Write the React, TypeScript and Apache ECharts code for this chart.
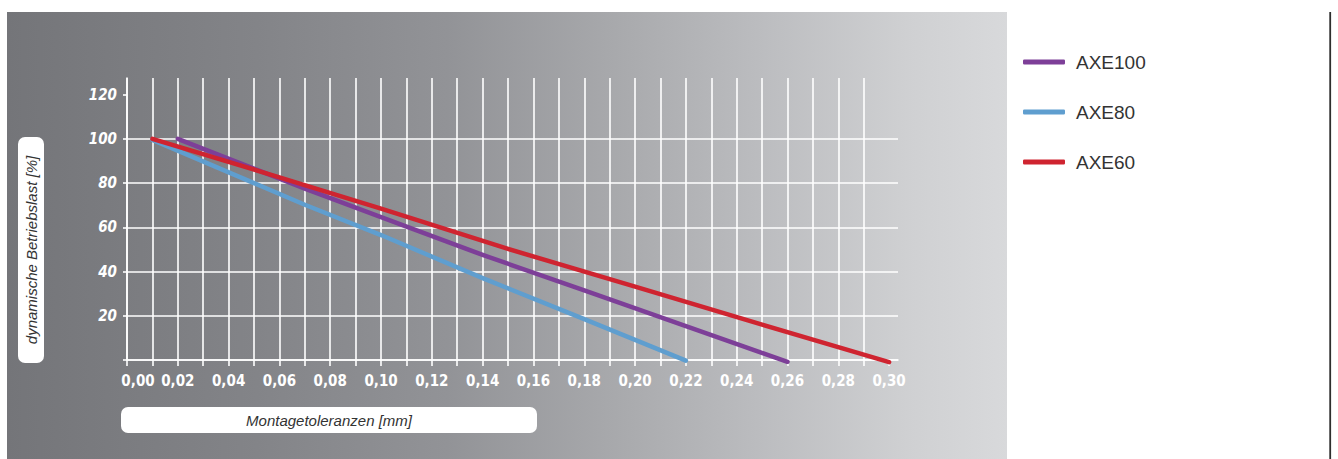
import React, { useEffect, useRef } from "react";
import * as echarts from "echarts";

const xTickValues = [0, 0.01, 0.02, 0.03, 0.04, 0.05, 0.06, 0.07, 0.08, 0.09, 0.1, 0.11, 0.12, 0.13, 0.14, 0.15, 0.16, 0.17, 0.18, 0.19, 0.2, 0.21, 0.22, 0.23, 0.24, 0.25, 0.26, 0.27, 0.28, 0.29, 0.3];
const xLabelValues = [0, 0.02, 0.04, 0.06, 0.08, 0.1, 0.12, 0.14, 0.16, 0.18, 0.2, 0.22, 0.24, 0.26, 0.28, 0.3];
const yTickValues = [0, 20, 40, 60, 80, 100, 120];
const yLabelValues = [20, 40, 60, 80, 100, 120];

const seriesNames = ["AXE100", "AXE80", "AXE60"];
const seriesColors = ["#7d3f98", "#5f9ecf", "#cf2430"];

const axe100X = [0.02, 0.07, 0.1, 0.14, 0.18, 0.22, 0.26];
const axe100Y = [100, 77.5, 64.6, 47.5, 31.5, 15.3, -0.8];
const axe80X = [0.01, 0.05, 0.07, 0.1, 0.14, 0.18, 0.22];
const axe80Y = [99.5, 80, 70.2, 56.5, 37.0, 18.5, -0.3];
const axe60X = [0.01, 0.06, 0.1, 0.15, 0.2, 0.25, 0.3];
const axe60Y = [100, 82.6, 68.4, 50.2, 33.2, 16.0, -1];

const xTitle = "Montagetoleranzen [mm]";
const yTitle = "dynamische Betriebslast [%]";

const numFont = "'Liberation Sans Narrow', 'DejaVu Sans Condensed', 'Liberation Sans', sans-serif";
const textFont = "'Liberation Sans', Arial, sans-serif";

export default function App() {
  const ref = useRef<HTMLDivElement>(null);
  useEffect(() => {
    if (!ref.current) return;
    const chart = echarts.init(ref.current, undefined, { renderer: "svg" });
    const pairs = (xs: number[], ys: number[]) => xs.map((x, i) => [x, ys[i]]);
    const datasets = [pairs(axe100X, axe100Y), pairs(axe80X, axe80Y), pairs(axe60X, axe60Y)];
    const numStyle = { color: "#ffffff", fontFamily: numFont, fontWeight: "bold", fontSize: 15 };
    chart.setOption({
      animation: false,
      backgroundColor: "#ffffff",
      grid: { left: 127, right: 440, top: 78, bottom: 99, containLabel: false },
      xAxis: {
        type: "value",
        min: 0,
        max: 0.3035,
        axisLine: { show: true, lineStyle: { color: "#ffffff", width: 1.6 } },
        axisTick: { show: true, length: 6, customValues: xTickValues, lineStyle: { color: "#ffffff", width: 1.6 } },
        splitLine: { show: true, showMaxLine: false, lineStyle: { color: "#ffffff", width: 1.6 } },
        axisLabel: {
          customValues: xLabelValues,
          margin: 13,
          ...numStyle,
          formatter: (v: number) => {
            const s = v.toFixed(2).replace(".", ",");
            return v === 0 ? "{first|" + s + "}" : s;
          },
          rich: {
            first: { ...numStyle, padding: [0, 0, 0, 22] },
          },
        },
      },
      yAxis: {
        type: "value",
        min: 0,
        max: 127.5,
        axisLine: { show: true, lineStyle: { color: "#ffffff", width: 1.6 } },
        axisTick: { show: true, length: 4, customValues: yTickValues, lineStyle: { color: "#ffffff", width: 1.6 } },
        splitLine: { show: true, showMaxLine: false, lineStyle: { color: "#ffffff", width: 1.6 } },
        axisLabel: {
          customValues: yLabelValues,
          margin: 10,
          ...numStyle,
          fontStyle: "italic",
        },
      },
      legend: {
        orient: "vertical",
        left: 1023,
        top: 52,
        padding: 0,
        itemWidth: 42,
        itemHeight: 5,
        itemGap: 30,
        icon: "roundRect",
        data: seriesNames,
        textStyle: {
          color: "#333333",
          fontFamily: textFont,
          fontSize: 19,
          lineHeight: 20,
          padding: [0, 0, 0, 6],
        },
      },
      graphic: [
        {
          type: "rect",
          z: -10,
          silent: true,
          shape: { x: 7, y: 12, width: 1000, height: 447 },
          style: {
            fill: new echarts.graphic.LinearGradient(0, 0, 1, 0, [
              { offset: 0, color: "#747579" },
              { offset: 0.25, color: "#838488" },
              { offset: 0.44, color: "#929397" },
              { offset: 0.6, color: "#a7a8ab" },
              { offset: 0.75, color: "#bbbcbf" },
              { offset: 0.9, color: "#cfd0d2" },
              { offset: 1, color: "#d8d9db" },
            ]),
          },
        },
        {
          type: "line",
          z: -5,
          silent: true,
          shape: { x1: 1015, y1: 12.5, x2: 1331, y2: 12.5 },
          style: {
            lineWidth: 1.2,
            stroke: new echarts.graphic.LinearGradient(0, 0, 1, 0, [
              { offset: 0, color: "rgba(80,80,80,0)" },
              { offset: 0.3, color: "#8a8a8a" },
              { offset: 1, color: "#333333" },
            ]),
          },
        },
        {
          type: "line",
          z: -5,
          silent: true,
          shape: { x1: 1330.2, y1: 12, x2: 1330.2, y2: 459 },
          style: { lineWidth: 1.8, stroke: "#2e2e2e" },
        },
        {
          type: "rect",
          z: -5,
          silent: true,
          shape: { x: 18, y: 137, width: 26, height: 226, r: 7 },
          style: { fill: "#ffffff" },
        },
        {
          type: "text",
          z: -4,
          silent: true,
          x: 31,
          y: 250,
          rotation: Math.PI / 2,
          style: {
            text: yTitle,
            fill: "#333333",
            font: "italic 15px " + textFont,
            align: "center",
            verticalAlign: "middle",
          },
        },
        {
          type: "rect",
          z: -5,
          silent: true,
          shape: { x: 121, y: 407, width: 416, height: 26, r: 7 },
          style: { fill: "#ffffff" },
        },
        {
          type: "text",
          z: -4,
          silent: true,
          x: 329,
          y: 420,
          style: {
            text: xTitle,
            fill: "#333333",
            font: "italic 15px " + textFont,
            align: "center",
            verticalAlign: "middle",
          },
        },
      ],
      series: seriesNames.map((name, i) => ({
        name,
        type: "line",
        data: datasets[i],
        showSymbol: false,
        symbol: "none",
        clip: false,
        color: seriesColors[i],
        lineStyle: { color: seriesColors[i], width: 4.5, cap: "round", join: "round" },
        z: 3 + i,
      })),
    });
    return () => chart.dispose();
  }, []);
  return (
    <div
      ref={ref}
      style={{ position: "absolute", left: 0, top: 0, width: 1338, height: 459 }}
    />
  );
}
